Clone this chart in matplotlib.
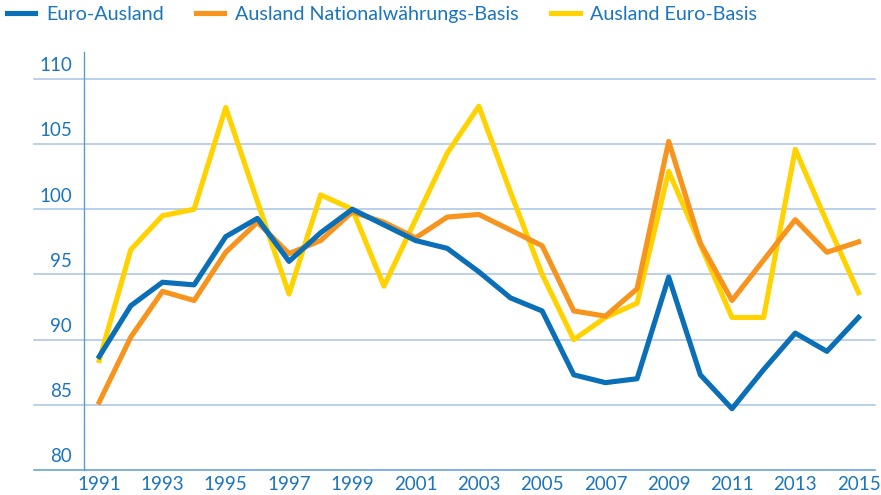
import matplotlib.pyplot as plt

years = list(range(1991, 2016))
euro_ausland = [88.7, 92.6, 94.4, 94.2, 97.9, 99.3, 96.0, 98.2, 100.0, 98.8,
                97.6, 97.0, 95.2, 93.2, 92.2, 87.3, 86.7, 87.0, 94.8, 87.3,
                84.7, 87.7, 90.5, 89.1, 91.7]
ausland_nat = [85.2, 90.2, 93.7, 93.0, 96.7, 99.0, 96.6, 97.6, 99.8, 99.0,
               97.8, 99.4, 99.6, 98.4, 97.2, 92.2, 91.8, 93.9, 105.2, 97.4,
               93.0, 96.1, 99.2, 96.7, 97.5]
ausland_euro = [88.4, 96.9, 99.5, 100.0, 107.8, 100.6, 93.5, 101.1, 100.0, 94.1,
                99.2, 104.3, 107.9, 101.3, 95.0, 90.0, 91.7, 92.8, 102.9, 97.3,
                91.7, 91.7, 104.6, 99.0, 93.6]
labels = ["Euro-Ausland", "Ausland Nationalwährungs-Basis", "Ausland Euro-Basis"]
yticks = [80, 85, 90, 95, 100, 105, 110]
xticks = list(range(1991, 2016, 2))

blue = "#0a6fb7"
orange = "#f7941d"
yellow = "#ffd200"
text_blue = "#1b75bc"
grid_col = "#a9c4e8"
axis_col = "#5b9bd5"

plt.rcParams["font.family"] = ["Lato", "DejaVu Sans"]

fig = plt.figure(figsize=(8.81, 4.95), dpi=100)
# axes: x 84..875 px, y 52..470 px
ax = fig.add_axes([84 / 881, (495 - 470) / 495, (875 - 84) / 881, (470 - 52) / 495])

ax.plot(years, ausland_euro, color=yellow, lw=3.7, zorder=3, label=labels[2])
ax.plot(years, ausland_nat, color=orange, lw=3.7, zorder=4, label=labels[1])
ax.plot(years, euro_ausland, color=blue, lw=3.7, zorder=5, label=labels[0])

ax.set_xlim(1990.52, 2015.52)
ax.set_ylim(80, 112.06)

for s in ["top", "right", "bottom"]:
    ax.spines[s].set_visible(False)
ax.spines["left"].set_color(axis_col)
ax.spines["left"].set_linewidth(1.0)

# gridlines reaching out left of the axis, labels sitting on them
trans = ax.get_yaxis_transform()
left = -(84 - 34) / (875 - 84)
for v in yticks:
    col = axis_col if v == 80 else grid_col
    ax.plot([left, 1], [v, v], transform=trans, color=col, lw=1.1,
            clip_on=False, zorder=1)
    ax.text(-(84 - 72) / (875 - 84), v + 0.35, str(v), transform=trans,
            ha="right", va="bottom", color=text_blue, fontsize=13.5)
ax.set_yticks([])

ax.set_xticks(xticks)
ax.set_xticklabels([str(x) for x in xticks], color=text_blue, fontsize=13.5)
ax.tick_params(axis="x", length=0, pad=4)

handles, labs = ax.get_legend_handles_labels()
order = [2, 1, 0]
fig.legend([handles[i] for i in order], [labs[i] for i in order],
           loc="upper left", bbox_to_anchor=(-0.008, 1.015), ncol=3, frameon=False,
           fontsize=14.2, handlelength=1.45, handletextpad=0.55, columnspacing=1.62,
           labelcolor=text_blue, borderaxespad=0.3)

fig.savefig("out.png", dpi=100)
